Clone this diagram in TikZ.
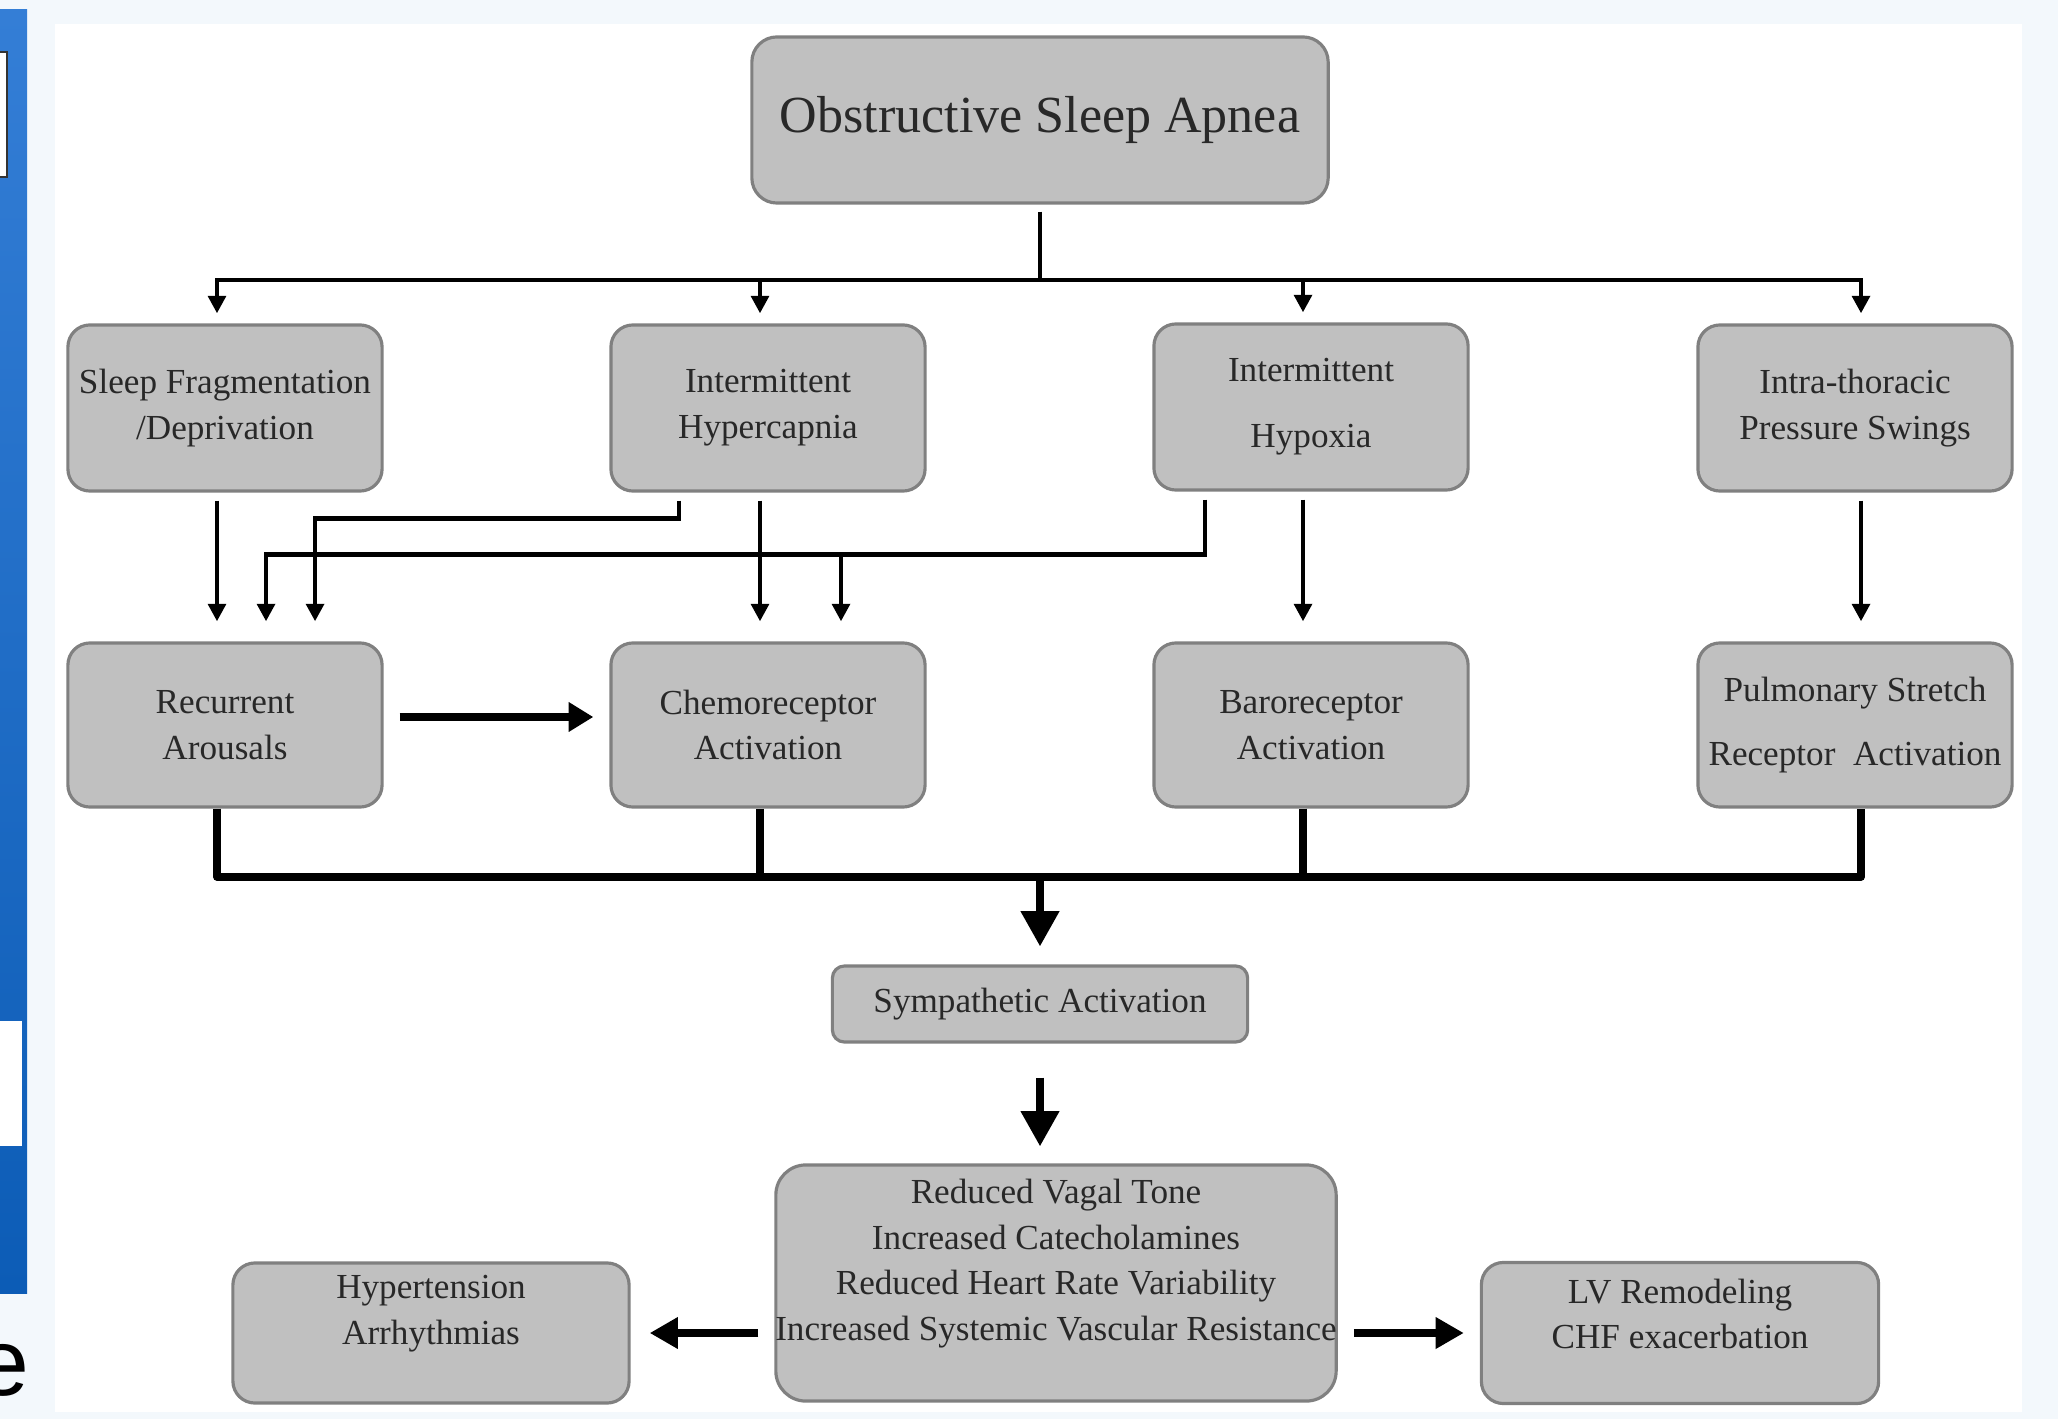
\documentclass[tikz,border=0pt]{standalone}
\usepackage{fontspec}
\setmainfont{Liberation Serif}
\newfontfamily\edgefont{Liberation Sans}
\usetikzlibrary{arrows.meta}

\definecolor{boxfill}{RGB}{192,192,192}
\definecolor{boxline}{RGB}{128,128,128}
\definecolor{boxtext}{RGB}{40,40,40}
\definecolor{pagetint}{RGB}{243,248,252}
\definecolor{bartop}{RGB}{52,126,214}
\definecolor{barbottom}{RGB}{12,92,182}

\tikzset{flow box/.style={draw=boxline,fill=boxfill,line width=0.9pt,rounded corners=0.22cm,inner sep=0pt,align=center,text=boxtext,font=\fontsize{10}{13}\selectfont},
box text/.style={inner sep=0pt,align=center,text=boxtext,font=\fontsize{10}{13}\selectfont},
link/.style={line width=1.3pt},
link arrow/.style={line width=1.3pt,-{Triangle[length=5pt,width=5pt]}},
trunk/.style={line width=2.1pt,line join=round},
trunk arrow/.style={line width=2.1pt,-{Triangle[length=8pt,width=8.5pt]}}}

\begin{document}
\begin{tikzpicture}[x=0.01cm,y=-0.01cm]

%% page and slide edge
\useasboundingbox (0,0) rectangle (2058,1419);
\fill[pagetint] (0,0) rectangle (2058,1419);
\fill[white] (55,24) rectangle (2022,1412);
\shade[top color=bartop,bottom color=barbottom] (0,10) rectangle (27,1293);
\filldraw[fill=white,draw=black!80,line width=0.8pt] (-5,52) rectangle (7,177);
\fill[white] (0,1021) rectangle (22,1146);
\node[anchor=east,inner sep=0pt,font=\edgefont\fontsize{27}{30}\selectfont] (edge) at (30,1370) {e};

%% apnea
\node[flow box,minimum width=5.76cm,minimum height=1.66cm,rounded corners=0.25cm,font=\fontsize{14.8}{18}\selectfont] (osa) at (1040,120) {Obstructive Sleep Apnea};

%% causes
\node[flow box,minimum width=3.14cm,minimum height=1.66cm] (frag) at (225,408) {Sleep Fragmentation\\/Deprivation};
\node[flow box,minimum width=3.14cm,minimum height=1.66cm] (hcap) at (768,408) {Intermittent\\Hypercapnia};
\node[flow box,minimum width=3.14cm,minimum height=1.66cm] (hypox) at (1311,407) {Intermittent\\[5.7pt]Hypoxia};
\node[flow box,minimum width=3.14cm,minimum height=1.66cm] (swing) at (1855,408) {Intra-thoracic\\Pressure Swings};

%% receptors
\node[flow box,minimum width=3.14cm,minimum height=1.64cm] (arous) at (225,725) {Recurrent\\Arousals};
\node[flow box,minimum width=3.14cm,minimum height=1.64cm] (chemo) at (768,725) {Chemoreceptor\\Activation};
\node[flow box,minimum width=3.14cm,minimum height=1.64cm] (baro) at (1311,725) {Baroreceptor\\Activation};
\node[flow box,minimum width=3.14cm,minimum height=1.64cm] (pulm) at (1855,725) {Pulmonary Stretch\\[5.3pt]Receptor\ \ Activation};

%% sympathetic activation and outcomes
\node[flow box,minimum width=4.15cm,minimum height=0.76cm,rounded corners=0.12cm] (symp) at (1040,1004) {Sympathetic Activation};
\node[flow box,minimum width=5.60cm,minimum height=2.36cm,rounded corners=0.3cm] (effects) at (1056,1283) {};
\node[box text] (effectsT) at ([yshift=0.195cm]effects.center) {Reduced Vagal Tone\\Increased Catecholamines\\Reduced Heart Rate Variability\\Increased Systemic Vascular Resistance};
\node[flow box,minimum width=3.96cm,minimum height=1.40cm] (hyper) at (431,1333) {};
\node[box text] (hyperT) at ([yshift=0.19cm]hyper.center) {Hypertension\\Arrhythmias};
\node[flow box,minimum width=3.97cm,minimum height=1.41cm] (remod) at (1680,1333) {};
\node[box text] (remodT) at ([yshift=0.19cm]remod.center) {LV Remodeling\\CHF exacerbation};

%% columns and buses
\coordinate (c1) at (217,0);
\coordinate (c2) at (760,0);
\coordinate (c3) at (1303,0);
\coordinate (c4) at (1861,0);
\coordinate (bus) at (1040,280);
\coordinate (sum) at (1040,877);
\coordinate (tap) at (841,553);

%% apnea to causes
\draw[link,shorten <=0.07cm] (osa) -- (bus);
\draw[link,line cap=rect] (c1 |- bus) -- (c4 |- bus);
\draw[link arrow,shorten >=0.1cm] (c1 |- bus) -- (c1 |- frag.north);
\draw[link arrow,shorten >=0.1cm] (c2 |- bus) -- (c2 |- hcap.north);
\draw[link arrow,shorten >=0.1cm] (c3 |- bus) -- (c3 |- hypox.north);
\draw[link arrow,shorten >=0.1cm] (c4 |- bus) -- (c4 |- swing.north);

%% causes to receptors
\draw[link arrow,shorten <=0.08cm,shorten >=0.2cm] (c1 |- frag.south) -- (c1 |- arous.north);
\draw[link arrow,shorten <=0.08cm,shorten >=0.2cm] (c2 |- hcap.south) -- (c2 |- chemo.north);
\draw[link arrow,shorten <=0.08cm,shorten >=0.2cm] (c3 |- hypox.south) -- (c3 |- baro.north);
\draw[link arrow,shorten <=0.08cm,shorten >=0.2cm] (c4 |- swing.south) -- (c4 |- pulm.north);
\draw[link arrow,shorten <=0.08cm,shorten >=0.2cm] ([xshift=-0.89cm]hcap.south) -- ++(0,26) -| ([xshift=0.9cm]arous.north);
\draw[link arrow,shorten <=0.08cm,shorten >=0.2cm] ([xshift=-1.06cm]hypox.south) -- ++(0,63) -| ([xshift=0.41cm]arous.north);
\draw[link arrow,shorten >=0.2cm] (tap) -- (tap |- chemo.north);

%% receptors to sympathetic activation
\draw[trunk arrow,-{Triangle[length=7pt,width=8pt]},shorten <=0.16cm,shorten >=0.16cm] ([yshift=0.08cm]arous.east) -- ([yshift=0.08cm]chemo.west);
\draw[trunk] (c1 |- arous.south) -- (c1 |- sum) -- (c4 |- sum) -- (c4 |- pulm.south);
\draw[trunk] (c2 |- chemo.south) -- (c2 |- sum);
\draw[trunk] (c3 |- baro.south) -- (c3 |- sum);
\draw[trunk arrow,-{Triangle[length=10pt,width=10.5pt]},shorten >=0.18cm] (sum) -- (symp);
\draw[trunk arrow,-{Triangle[length=10pt,width=10.5pt]},shorten <=0.34cm,shorten >=0.17cm] (symp) -- (symp |- effects.north);

%% outcomes
\draw[trunk arrow,shorten <=0.16cm,shorten >=0.19cm] (effects.west |- hyper) -- (hyper.east);
\draw[trunk arrow,shorten <=0.16cm,shorten >=0.16cm] (effects.east |- remod) -- (remod.west);

\end{tikzpicture}
\end{document}
